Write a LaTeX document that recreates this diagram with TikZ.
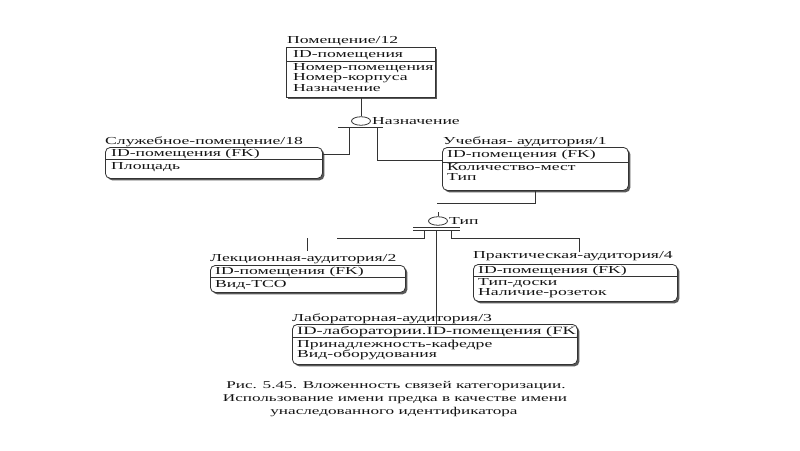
\documentclass[tikz,border=0pt]{standalone}
\usepackage{fontspec}
\setmainfont{Liberation Serif}[FakeStretch=1.65]
\usetikzlibrary{shapes.geometric,shadows}
\begin{document}
\begin{tikzpicture}[x=1pt,y=-1pt,
  ln/.style={draw=black!80, line width=0.8pt},
  entsq/.style={draw=black!80, line width=0.8pt, fill=white, anchor=north west, inner sep=0,
     drop shadow={shadow xshift=2pt, shadow yshift=-2pt, fill=black!65, opacity=1}},
  entrd/.style={entsq, rounded corners=5pt},
  txt/.style={anchor=base west, inner sep=0, text=black!92, font=\fontsize{10.7}{12}\selectfont},
  captxt/.style={anchor=base, inner sep=0, text=black!92, font=\fontsize{10.4}{12}\selectfont},
  junc/.style={ellipse, draw=black!80, line width=0.8pt, fill=white, minimum width=19pt, minimum height=8.5pt, inner sep=0}
]
\useasboundingbox[fill=white] (0,0) rectangle (800,450);

% Помещение/12
\node[entsq, minimum width=149pt, minimum height=50pt] (pom) at (286,47) {};
\draw[ln] ([yshift=-14pt]pom.north west) -- ([yshift=-14pt]pom.north east);
\node[txt] (pomT) at (287,43.5) {Помещение/12};
\node[txt] (pom1) at (293,57.5) {ID-помещения};
\node[txt] (pom2) at (293,70.5) {Номер-помещения};
\node[txt] (pom3) at (293,80.5) {Номер-корпуса};
\node[txt] (pom4) at (293,91) {Назначение};

% Служебное-помещение/18
\node[entrd, minimum width=217pt, minimum height=31pt] (slu) at (105,147) {};
\draw[ln] ([yshift=-12pt]slu.north west) -- ([yshift=-12pt]slu.north east);
\node[txt] (sluT) at (105,144.5) {Служебное-помещение/18};
\node[txt] (slu1) at (111,156.5) {ID-помещения (FK)};
\node[txt] (slu2) at (111,169.5) {Площадь};

% Учебная- аудитория/1
\node[entrd, minimum width=186pt, minimum height=43pt] (uch) at (442,147) {};
\draw[ln] ([yshift=-15pt]uch.north west) -- ([yshift=-15pt]uch.north east);
\node[txt] (uchT) at (443,144.5) {Учебная- аудитория/1};
\node[txt] (uch1) at (447,157) {ID-помещения (FK)};
\node[txt] (uch2) at (447,170) {Количество-мест};
\node[txt] (uch3) at (447,180) {Тип};

% Лекционная-аудитория/2
\node[entrd, minimum width=195pt, minimum height=27pt] (lek) at (210,265) {};
\draw[ln] ([yshift=-12pt]lek.north west) -- ([yshift=-12pt]lek.north east);
\node[txt] (lekT) at (210,261.5) {Лекционная-аудитория/2};
\node[txt] (lek1) at (215,274.5) {ID-помещения (FK)};
\node[txt] (lek2) at (215,287.5) {Вид-ТСО};

% Практическая-аудитория/4
\node[entrd, minimum width=204pt, minimum height=37pt] (pra) at (473,264) {};
\draw[ln] ([yshift=-12pt]pra.north west) -- ([yshift=-12pt]pra.north east);
\node[txt] (praT) at (473,258.5) {Практическая-аудитория/4};
\node[txt] (pra1) at (478,273) {ID-помещения (FK)};
\node[txt] (pra2) at (478,285.5) {Тип-доски};
\node[txt] (pra3) at (478,295.5) {Наличие-розеток};

% Лабораторная-аудитория/3
\node[entrd, minimum width=285pt, minimum height=40pt] (lab) at (292,324) {};
\draw[ln] ([yshift=-13pt]lab.north west) -- ([yshift=-13pt]lab.north east);
\node[txt] (labT) at (292,321.5) {Лабораторная-аудитория/3};
\begin{scope}
\clip (292,324) rectangle (576,337);
\node[txt, font=\fontsize{11.2}{12}\selectfont] (lab1) at (297,334.5) {ID-лаборатории.ID-помещения (FK)};
\end{scope}
\node[txt] (lab2) at (297,347) {Принадлежность-кафедре};
\node[txt] (lab3) at (297,357) {Вид-оборудования};

% categorization 1: Назначение
\node[junc] (c1) at (361,121) {};
\node[txt] (c1L) at (372,124.5) {Назначение};
\draw[ln] (pom.south -| c1) -- (c1.north);
\coordinate (b1l) at (338,127);
\coordinate (b1r) at (383,127);
\draw[ln] (b1l) -- (b1r);
\coordinate (j1a) at (349,127);
\coordinate (j1b) at (377,127);
\draw[ln] (j1a) |- ([yshift=8.5pt]slu.east);
\draw[ln] (j1b) |- ([yshift=8.5pt]uch.west);

% categorization 2: Тип
\coordinate (g1) at (437,203);
\draw[ln] (uch.south) |- (g1);
\node[junc] (c2) at (438,221) {};
\node[txt] (c2L) at (449,224.5) {Тип};
\draw[ln] (c2.north) -- ++(0,-4);
\coordinate (b2l) at (413,227.5);
\coordinate (b2r) at (460,227.5);
\draw[ln] (b2l) -- (b2r);
\draw[ln] ([yshift=-3pt]b2l) -- ([yshift=-3pt]b2r);
\coordinate (k1) at (424,230.5);
\coordinate (k2) at (436,230.5);
\coordinate (k3) at (451,230.5);
\coordinate (k1e) at (337,238);
\draw[ln] (k1) |- (k1e);
\coordinate (st1) at (307,238);
\coordinate (st2) at (307,251);
\draw[ln] (st1) -- (st2);
\draw[ln] (k2) -- (k2 |- lab.north);
\coordinate (k3e) at (579,252);
\draw[ln] (k3) -- (451,238) -| (k3e);

% caption
\node[captxt] (cap1) at (396,388.5) {Рис. 5.45. Вложенность связей категоризации.};
\node[captxt] (cap2) at (395,401.5) {Использование имени предка в качестве имени};
\node[captxt] (cap3) at (394,414.5) {унаследованного идентификатора};
\end{tikzpicture}
\end{document}
